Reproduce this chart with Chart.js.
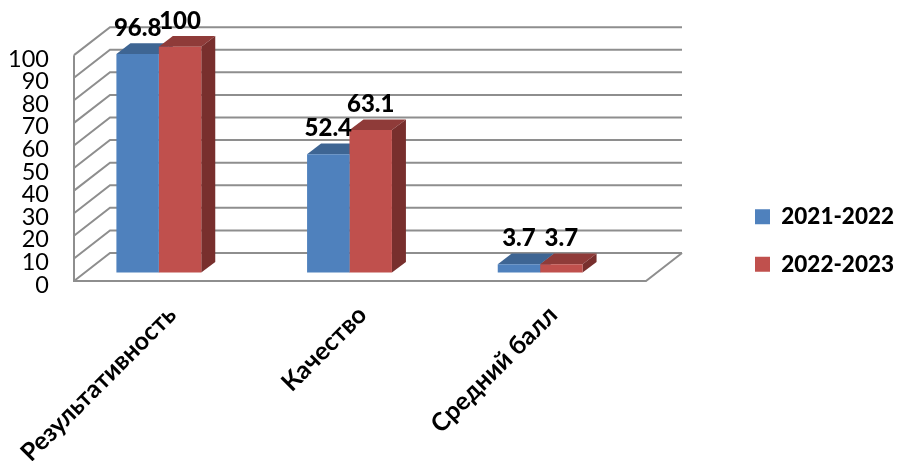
<!DOCTYPE html>
<html>
<head>
<meta charset="utf-8">
<style>
  html, body { margin: 0; padding: 0; background: #fff; }
  canvas { display: block; }
</style>
<script src="https://cdn.jsdelivr.net/npm/chart.js@4"></script>
</head>
<body>
<canvas id="chart" width="898" height="461"></canvas>
<script>
const categories = ["Результативность", "Качество", "Средний балл"];
const years = ["2021-2022", "2022-2023"];
const values2122 = [96.8, 52.4, 3.7];
const values2223 = [100, 63.1, 3.7];
const yTicks = [0, 10, 20, 30, 40, 50, 60, 70, 80, 90, 100];

const frontColors = ["#4f81bd", "#c0504d"];
const topColors = ["#3e6593", "#8f3b39"];
const sideColors = ["#365880", "#782f2d"];
const gridColor = "#8e8e8e";

// depth of the fake 3D box, measured from the plane the bars stand on
const barDepth = { x: 14, y: -10.6 };
const frontPlane = { x: 10.5, y: 8.5 };
const backPlane = { x: 46.5, y: -19.5 };

const threeD = {
  id: "threeD",
  beforeDraw(chart) {
    // legend box comes out a bit too narrow and clips its text
    chart.legend.right = chart.width;
  },
  beforeDatasetsDraw(chart) {
    const { ctx, chartArea, scales } = chart;
    const y = scales.y;
    ctx.save();
    ctx.strokeStyle = gridColor;
    ctx.lineWidth = 2;
    const fl = chartArea.left + frontPlane.x, fr = chartArea.right + frontPlane.x;
    const bl = chartArea.left + backPlane.x, br = chartArea.right + backPlane.x;

    // back wall and left wall lines
    yTicks.forEach((v) => {
      const py = y.getPixelForValue(v);
      ctx.beginPath();
      ctx.moveTo(fl, py + frontPlane.y);
      ctx.lineTo(bl, py + backPlane.y);
      ctx.lineTo(br, py + backPlane.y);
      ctx.stroke();
    });
    // floor + front left edge
    const zero = y.getPixelForValue(0);
    ctx.beginPath();
    ctx.moveTo(fl, y.getPixelForValue(100) + frontPlane.y);
    ctx.lineTo(fl, zero + frontPlane.y);
    ctx.lineTo(fr, zero + frontPlane.y);
    ctx.lineTo(br, zero + backPlane.y);
    ctx.stroke();

    // tops and sides go under the front faces
    chart.data.datasets.forEach((ds, i) => {
      chart.getDatasetMeta(i).data.forEach((bar) => {
        const l = bar.x - bar.width / 2, r = bar.x + bar.width / 2;
        ctx.fillStyle = topColors[i];
        ctx.beginPath();
        ctx.moveTo(l, bar.y);
        ctx.lineTo(l + barDepth.x, bar.y + barDepth.y);
        ctx.lineTo(r + barDepth.x, bar.y + barDepth.y);
        ctx.lineTo(r, bar.y);
        ctx.closePath();
        ctx.fill();
        ctx.fillStyle = sideColors[i];
        ctx.beginPath();
        ctx.moveTo(r, bar.y);
        ctx.lineTo(r + barDepth.x, bar.y + barDepth.y);
        ctx.lineTo(r + barDepth.x, bar.base + barDepth.y);
        ctx.lineTo(r, bar.base);
        ctx.closePath();
        ctx.fill();
      });
    });
    ctx.restore();
  },
  afterDatasetsDraw(chart) {
    const { ctx } = chart;
    ctx.save();
    ctx.fillStyle = "#000";
    ctx.font = "900 24px Lato";
    ctx.textAlign = "center";
    ctx.textBaseline = "alphabetic";
    chart.data.datasets.forEach((ds, i) => {
      chart.getDatasetMeta(i).data.forEach((bar, j) => {
        ctx.fillText(String(ds.data[j]), bar.x, bar.y - 17.7);
      });
    });
    ctx.restore();
  }
};

new Chart(document.getElementById("chart"), {
  type: "bar",
  data: {
    labels: categories,
    datasets: [
      { label: years[0], data: values2122, backgroundColor: frontColors[0] },
      { label: years[1], data: values2223, backgroundColor: frontColors[1] }
    ]
  },
  plugins: [threeD],
  options: {
    responsive: false,
    animation: false,
    layout: { padding: { top: 20, left: 0, right: 22, bottom: 0 } },
    datasets: { bar: { categoryPercentage: 0.445, barPercentage: 1 } },
    scales: {
      x: {
        grid: { display: false },
        border: { display: false },
        afterFit(s) {
          s.height = 174;
          s.paddingLeft = 0;
          s.paddingRight = 0;
        },
        ticks: {
          color: "#000",
          font: { family: "Lato", size: 25, weight: "bold" },
          minRotation: 45,
          maxRotation: 45,
          padding: 5,
          labelOffset: 13,
          autoSkip: false
        }
      },
      y: { display: false, min: -6.42, max: 111.8 },
      yFront: {
        position: "left",
        min: -0.88,
        max: 117.3,
        grid: { display: false },
        border: { display: false },
        afterFit(s) {
          s.width = 63.5;
          s.paddingTop = 0;
          s.paddingBottom = 0;
        },
        afterBuildTicks(s) { s.ticks = yTicks.map((value) => ({ value })); },
        ticks: {
          color: "#000",
          font: { family: "Lato", size: 23.5 },
          padding: 6.5,
          autoSkip: false
        }
      },
      spacer: {
        position: "right",
        min: 0,
        max: 1,
        grid: { display: false },
        border: { display: false },
        ticks: { display: false },
        afterFit(s) { s.width = 94.5; }
      }
    },
    plugins: {
      legend: {
        position: "right",
        labels: {
          color: "#000",
          boxWidth: 15,
          boxHeight: 15,
          padding: 25,
          font: { family: "Lato", size: 22.5, weight: "900" }
        }
      },
      tooltip: { enabled: false }
    }
  }
});
</script>
</body>
</html>
